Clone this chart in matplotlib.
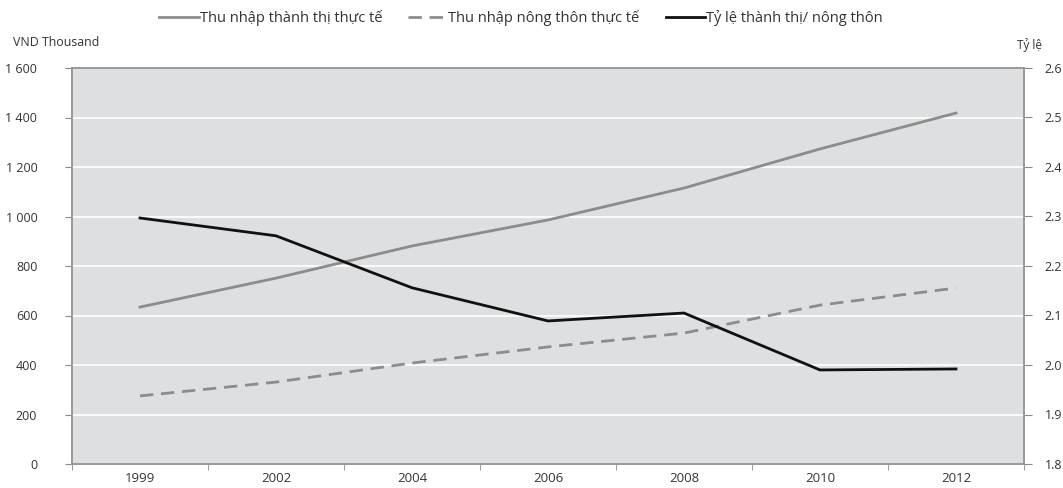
import numpy as np
import matplotlib.pyplot as plt
from matplotlib.ticker import FuncFormatter

plt.rcParams['font.family'] = ['Open Sans', 'DejaVu Sans']

# Real income per capita (VND thousand) and urban/rural ratio
years = ['1999', '2002', '2004', '2006', '2008', '2010', '2012']
urban_income = [634, 751, 881, 986, 1115, 1273, 1418]
rural_income = [275, 331, 408, 473, 529, 642, 711]
ratio = [2.297, 2.261, 2.156, 2.089, 2.105, 1.990, 1.992]

grey_line = '#8c8c8c'
bg = '#dedfe1'
text_col = '#333333'

fig = plt.figure(figsize=(10.63, 4.88), dpi=100)
ax = fig.add_axes([72 / 1063, 24 / 488, 952 / 1063, 396 / 488])
ax2 = ax.twinx()

x = np.arange(len(years))
ax.set_facecolor(bg)
ax.set_zorder(0)
ax2.set_zorder(1)
ax2.patch.set_visible(False)

l1, = ax.plot(x, urban_income, color=grey_line, lw=2, label='Thu nhập thành thị thực tế')
l2, = ax.plot(x, rural_income, color=grey_line, lw=2, ls=(0, (4.8, 2.8)),
              label='Thu nhập nông thôn thực tế')
l3, = ax2.plot(x, ratio, color='#111111', lw=2, label='Tỷ lệ thành thị/ nông thôn')

ax.set_xlim(-0.5, len(years) - 0.5)
ax.set_ylim(0, 1600)
ax.set_yticks(np.arange(0, 1601, 200))
ax.yaxis.set_major_formatter(FuncFormatter(lambda v, p: f'{int(v):,}'.replace(',', ' ')))
ax.grid(axis='y', color='white', lw=1.2)
ax.set_axisbelow(True)

ax2.set_ylim(1.8, 2.6)
ax2.set_yticks(np.arange(1.8, 2.61, 0.1))
ax2.yaxis.set_major_formatter(FuncFormatter(lambda v, p: f'{v:.1f}'))

# category labels centred, tick marks on category boundaries
ax.set_xticks(x)
ax.set_xticklabels(years)
ax.set_xticks(np.arange(-0.5, len(years), 1), minor=True)
ax.tick_params(axis='x', which='major', length=0, pad=6, labelsize=9.5, colors=text_col)
ax.tick_params(axis='x', which='minor', length=4, color='#888888', direction='out')
ax.tick_params(axis='y', length=5, color='#888888', labelsize=9, colors=text_col, pad=20)
ax2.tick_params(axis='y', length=6, color='#888888', labelsize=9, colors=text_col, pad=9)

for a in (ax, ax2):
    for s in a.spines.values():
        s.set_color('#999999')
        s.set_linewidth(1.2)

fig.text(13 / 1063, 1 - 42 / 488, 'VND Thousand', fontsize=8.9, color=text_col, va='center')
fig.text(1042 / 1063, 1 - 45 / 488, 'Tỷ lệ', fontsize=8.5, color=text_col, va='center', ha='right')

fig.legend(handles=[l1, l2, l3], loc='center', bbox_to_anchor=(521 / 1063, 1 - 18 / 488),
           ncol=3, frameon=False, fontsize=10.5, handlelength=2.7, handletextpad=0.05,
           columnspacing=1.8, labelcolor=text_col)

fig.savefig('out.png', dpi=100)
